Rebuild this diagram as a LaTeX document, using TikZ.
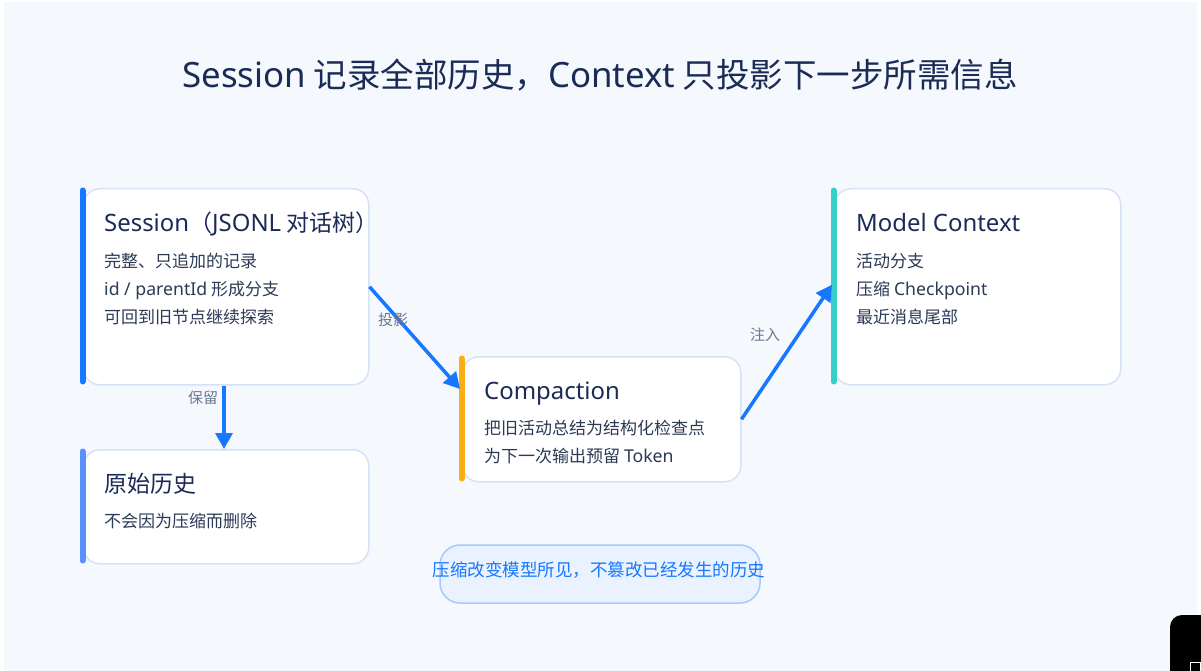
\documentclass[tikz,border=0pt]{standalone}
\usepackage{fontspec}
\setmainfont{Noto Sans CJK SC}
\newfontfamily\lat{Noto Sans}[Scale=1.04]
\usetikzlibrary{arrows.meta,calc}
\definecolor{bgc}{HTML}{F5F9FE}
\definecolor{navy}{HTML}{1A2B56}
\definecolor{bodyc}{HTML}{2B3A55}
\definecolor{labc}{HTML}{6B7890}
\definecolor{arrc}{HTML}{1677FF}
\definecolor{barA}{HTML}{1677FF}
\definecolor{barB}{HTML}{5B8FF9}
\definecolor{barC}{HTML}{FAAD14}
\definecolor{barD}{HTML}{36CFC9}
\definecolor{bordc}{HTML}{D5E3F8}
\definecolor{pillf}{HTML}{EAF2FF}
\definecolor{pilld}{HTML}{A6C8FF}
\tikzset{
  card/.style={draw=bordc,line width=1.5pt,fill=white,rounded corners=16pt,inner sep=0pt,anchor=north west},
  accent/.style={line width=6pt,line cap=round},
  ttl/.style={anchor=base west,inner sep=0pt,text=navy,font=\fontsize{23}{26}\selectfont},
  bod/.style={anchor=base west,inner sep=0pt,text=bodyc,font=\fontsize{17}{20}\selectfont},
  lab/.style={inner sep=0pt,text=labc,font=\fontsize{15}{18}\selectfont},
  flow/.style={draw=arrc,line width=3.5pt,-{Triangle[length=16pt,width=17pt]},shorten >=0pt},
}
\begin{document}
\begin{tikzpicture}[x=1pt,y=-1pt]
\useasboundingbox (0,0) rectangle (1201,671);
\fill[white] (0,0) rectangle (1201,671);
\fill[bgc] (4,2) rectangle (1197,671);
% title
\node[anchor=base,inner sep=0pt,text=navy,font=\fontsize{33.5}{36}\selectfont] (title) at (600,88) {{\lat Session} 记录全部历史，{\lat Context} 只投影下一步所需信息};
% cards
\node[card,minimum width=285pt,minimum height=196pt] (s) at (83,188) {};
\draw[accent,barA] (82.5,190.5) -- (82.5,381.5);
\node[ttl] (st) at (104,231) {{\lat Session}（{\lat JSONL} 对话树）};
\node[bod] (s1) at (104,267.5) {完整、只追加的记录};
\node[bod] (s2) at (104,295.5) {{\lat id / parentId} 形成分支};
\node[bod] (s3) at (104,323.5) {可回到旧节点继续探索};

\node[card,minimum width=285pt,minimum height=114pt] (h) at (83,449) {};
\draw[accent,barB] (82.5,451.5) -- (82.5,560.5);
\node[ttl] (ht) at (104,492) {原始历史};
\node[bod] (h1) at (104,527.5) {不会因为压缩而删除};

\node[card,minimum width=278pt,minimum height=125pt] (c) at (462,356) {};
\draw[accent,barC] (461.5,358.5) -- (461.5,478.5);
\node[ttl] (ct) at (484,399) {\lat Compaction};
\node[bod] (c1) at (484,434.5) {把旧活动总结为结构化检查点};
\node[bod] (c2) at (484,462.5) {为下一次输出预留 {\lat Token}};

\node[card,minimum width=286pt,minimum height=196pt] (m) at (834,188) {};
\draw[accent,barD] (833.5,190.5) -- (833.5,381.5);
\node[ttl] (mt) at (856,231) {\lat Model Context};
\node[bod] (m1) at (856,267.5) {活动分支};
\node[bod] (m2) at (856,295.5) {压缩 {\lat Checkpoint}};
\node[bod] (m3) at (856,323.5) {最近消息尾部};

% connectors
\draw[flow] (s.east) -- ($(c.west |- 0,389)+(-2,0)$) coordinate (cin);
\node[lab] (l1) at (393,320) {投影};
\draw[flow] (c.east) -- ($(m.west)+(-2,-2)$);
\node[lab] (l2) at (765,335) {注入};
\draw[flow] (s.south -| 224,0) -- (h.north -| 224,0);
\node[lab] (l3) at (203,398) {保留};

% pill
\node[draw=pilld,line width=1.5pt,fill=pillf,rounded corners=20pt,minimum width=320pt,minimum height=58pt,inner sep=0pt] (p) at (600,574) {};
\node[inner sep=0pt,text=arrc,font=\fontsize{17.5}{20}\selectfont] (pt) at (599,570) {压缩改变模型所见，不篡改已经发生的历史};

% corner artifact
\begin{scope}
\clip (0,0) rectangle (1201,671);
\fill[black,rounded corners=12pt] (1170,615) rectangle (1230,700);
\draw[white,line width=1pt] (1190,662) rectangle (1200,680);
\end{scope}
\end{tikzpicture}
\end{document}
